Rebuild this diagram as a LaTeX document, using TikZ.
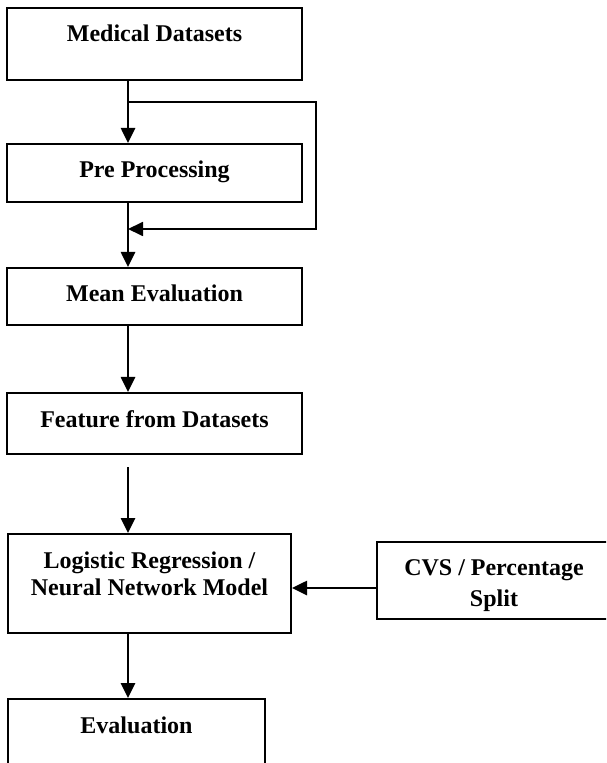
\documentclass[tikz,border=0pt]{standalone}
\usepackage{fontspec}
\setmainfont{Liberation Serif}
\usetikzlibrary{arrows.meta}
\newcommand{\twolines}[2]{\begin{tabular}[t]{@{}c@{}}#1\\#2\end{tabular}}
\tikzset{
  stagebox/.style={draw,line width=1pt,anchor=north,inner xsep=0pt,inner ysep=8.5pt,text height=8.5pt,font=\fontsize{12pt}{13.5pt}\selectfont\bfseries},
  flow/.style={-{Triangle[length=7.5pt,width=7pt]},line width=1.3pt},
}
\begin{document}
\begin{tikzpicture}[x=0.5pt,y=-0.5pt]
\useasboundingbox (0,0) rectangle (606,763);
\clip (0,0) rectangle (606,763);
\node[stagebox,minimum width=147.5pt,text depth=10.5pt](med) at (154.5,7){Medical Datasets};
\node[stagebox,minimum width=147.5pt,text depth=3.5pt](pre) at (154.5,143){Pre Processing};
\node[stagebox,minimum width=147.5pt,text depth=3pt](mean) at (154.5,267){Mean Evaluation};
\node[stagebox,minimum width=147.5pt,text depth=5pt](feat) at (154.5,392){Feature from Datasets};
\node[stagebox,minimum width=141.5pt,text depth=24pt](model) at (149.5,533){\twolines{Logistic Regression /}{Neural Network Model}};
\node[stagebox,minimum width=117pt,text depth=14pt,inner ysep=8pt,font=\fontsize{12pt}{15.5pt}\selectfont\bfseries](cvs) at (494,541){\twolines{CVS / Percentage}{Split}};
\node[stagebox,minimum width=128.5pt,text depth=12pt](eval) at (136.5,698){Evaluation};
\coordinate (spine) at (128,0);
\coordinate (fork) at (128,102);
\coordinate (merge) at (128,229);
\coordinate (loopR) at (316,0);
\draw[flow](spine|-med.south)--(spine|-pre.north);
\draw[flow,line width=0.9pt](fork)--(loopR|-fork)--(loopR|-merge)--(merge);
\draw[flow](spine|-pre.south)--(spine|-mean.north);
\draw[flow](spine|-mean.south)--(spine|-feat.north);
\draw[flow]([yshift=-6pt]spine|-feat.south)--(spine|-model.north);
\draw[flow](spine|-model.south)--(spine|-eval.north);
\draw[flow](cvs.west|-0,588)--(model.east|-0,588);
\end{tikzpicture}
\end{document}
